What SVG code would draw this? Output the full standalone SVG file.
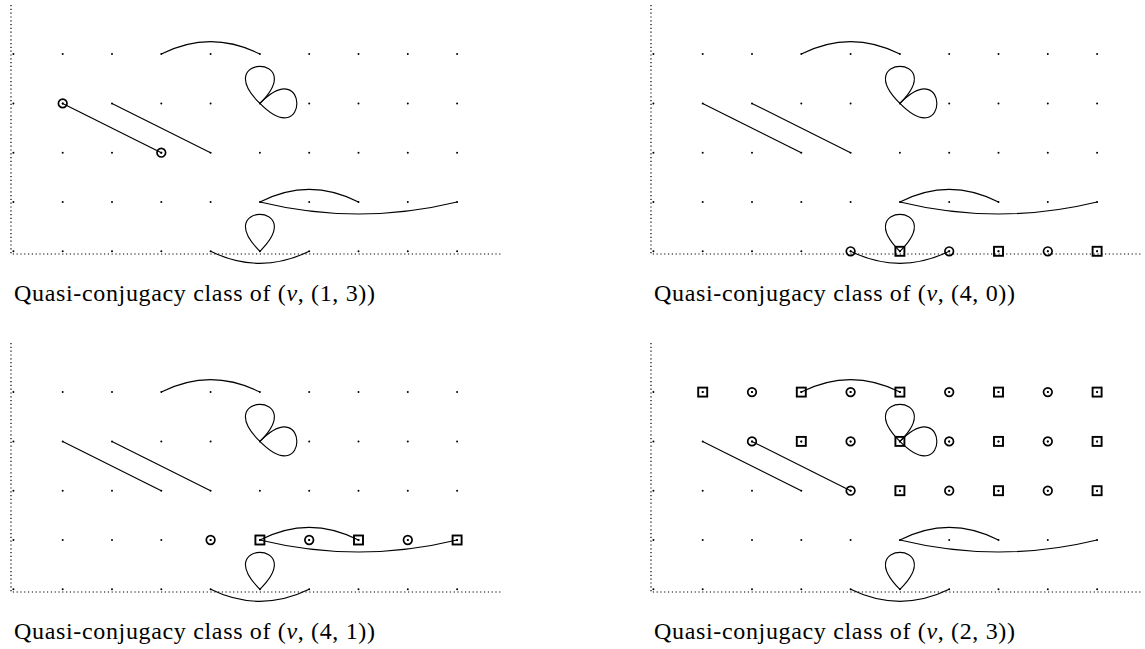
<svg xmlns="http://www.w3.org/2000/svg" xmlns:xlink="http://www.w3.org/1999/xlink" width="1145" height="649" viewBox="0 0 1145 649">
<style>
.edge{fill:none;stroke:#000;stroke-width:1.15}
.axis{fill:none;stroke:#000;stroke-width:1.2;stroke-dasharray:1.2 2.6}
.grid{fill:none;stroke:#000;stroke-width:2;stroke-linecap:round;stroke-dasharray:0 49.3}
.lbl{font-family:'Liberation Serif','Times New Roman',serif;font-size:24px;fill:#000}
</style>
<defs>
<g id="gridbase">
<path class="axis" d="M11 5V254H502"/>
<path class="grid" d="M13.4 54.1H458M13.4 103.4H458M13.4 152.7H458M13.4 202H458M13.4 251.3H458"/>
</g>
<g id="circ"><circle r="4.3" fill="none" stroke="#000" stroke-width="1.7"/><circle r="1" fill="#000"/></g>
<g id="sq"><rect x="-4.5" y="-4.5" width="9" height="9" fill="none" stroke="#000" stroke-width="1.9"/><circle r="1" fill="#000"/></g>
</defs>

<g id="panel1">
<use xlink:href="#gridbase" href="#gridbase"/>
<g id="p1-edges">
<path class="edge" d="M161.3 54.1Q210.6 29.3 259.9 54.1"/>
<path class="edge" d="M259.9 103.4C209.9 54.1 309.9 54.1 259.9 103.4"/>
<path class="edge" d="M259.9 103.4C309.2 53.4 309.2 153.4 259.9 103.4"/>
<path class="edge" d="M62.7 103.4L161.3 152.7"/>
<path class="edge" d="M112 103.4L210.6 152.7"/>
<path class="edge" d="M259.9 202Q309.2 176.6 358.5 202"/>
<path class="edge" d="M259.9 202Q358.5 226 457.1 202"/>
<path class="edge" d="M259.9 251.3C209.9 202 309.9 202 259.9 251.3"/>
<path class="edge" d="M210.6 251.3Q259.9 275.3 309.2 251.3"/>
</g>
<g id="p1-n1"><use xlink:href="#circ" href="#circ" x="62.7" y="103.4"/></g>
<g id="p1-n2"><use xlink:href="#circ" href="#circ" x="161.3" y="152.7"/></g>
<text class="lbl" font-family="Liberation Serif" x="14" y="300.5" textLength="361" lengthAdjust="spacing">Quasi-conjugacy class of (<tspan font-style="italic">v</tspan>, (1, 3))</text>
</g>

<g id="panel2" transform="translate(640,0)">
<use xlink:href="#gridbase" href="#gridbase"/>
<g id="p2-edges">
<path class="edge" d="M161.3 54.1Q210.6 29.3 259.9 54.1"/>
<path class="edge" d="M259.9 103.4C209.9 54.1 309.9 54.1 259.9 103.4"/>
<path class="edge" d="M259.9 103.4C309.2 53.4 309.2 153.4 259.9 103.4"/>
<path class="edge" d="M62.7 103.4L161.3 152.7"/>
<path class="edge" d="M112 103.4L210.6 152.7"/>
<path class="edge" d="M259.9 202Q309.2 176.6 358.5 202"/>
<path class="edge" d="M259.9 202Q358.5 226 457.1 202"/>
<path class="edge" d="M259.9 251.3C209.9 202 309.9 202 259.9 251.3"/>
<path class="edge" d="M210.6 251.3Q259.9 275.3 309.2 251.3"/>
</g>
<g id="p2-n1"><use xlink:href="#circ" href="#circ" x="210.6" y="251.3"/></g>
<g id="p2-n2"><use xlink:href="#sq" href="#sq" x="259.9" y="251.3"/></g>
<g id="p2-n3"><use xlink:href="#circ" href="#circ" x="309.2" y="251.3"/></g>
<g id="p2-n4"><use xlink:href="#sq" href="#sq" x="358.5" y="251.3"/></g>
<g id="p2-n5"><use xlink:href="#circ" href="#circ" x="407.8" y="251.3"/></g>
<g id="p2-n6"><use xlink:href="#sq" href="#sq" x="457.1" y="251.3"/></g>
<text class="lbl" font-family="Liberation Serif" x="14" y="300.5" textLength="361" lengthAdjust="spacing">Quasi-conjugacy class of (<tspan font-style="italic">v</tspan>, (4, 0))</text>
</g>

<g id="panel3" transform="translate(0,338)">
<use xlink:href="#gridbase" href="#gridbase"/>
<g id="p3-edges">
<path class="edge" d="M161.3 54.1Q210.6 29.3 259.9 54.1"/>
<path class="edge" d="M259.9 103.4C209.9 54.1 309.9 54.1 259.9 103.4"/>
<path class="edge" d="M259.9 103.4C309.2 53.4 309.2 153.4 259.9 103.4"/>
<path class="edge" d="M62.7 103.4L161.3 152.7"/>
<path class="edge" d="M112 103.4L210.6 152.7"/>
<path class="edge" d="M259.9 202Q309.2 176.6 358.5 202"/>
<path class="edge" d="M259.9 202Q358.5 226 457.1 202"/>
<path class="edge" d="M259.9 251.3C209.9 202 309.9 202 259.9 251.3"/>
<path class="edge" d="M210.6 251.3Q259.9 275.3 309.2 251.3"/>
</g>
<g id="p3-n1"><use xlink:href="#circ" href="#circ" x="210.6" y="202"/></g>
<g id="p3-n2"><use xlink:href="#sq" href="#sq" x="259.9" y="202"/></g>
<g id="p3-n3"><use xlink:href="#circ" href="#circ" x="309.2" y="202"/></g>
<g id="p3-n4"><use xlink:href="#sq" href="#sq" x="358.5" y="202"/></g>
<g id="p3-n5"><use xlink:href="#circ" href="#circ" x="407.8" y="202"/></g>
<g id="p3-n6"><use xlink:href="#sq" href="#sq" x="457.1" y="202"/></g>
<text class="lbl" font-family="Liberation Serif" x="14" y="300.5" textLength="361" lengthAdjust="spacing">Quasi-conjugacy class of (<tspan font-style="italic">v</tspan>, (4, 1))</text>
</g>

<g id="panel4" transform="translate(640,338)">
<use xlink:href="#gridbase" href="#gridbase"/>
<g id="p4-edges">
<path class="edge" d="M161.3 54.1Q210.6 29.3 259.9 54.1"/>
<path class="edge" d="M259.9 103.4C209.9 54.1 309.9 54.1 259.9 103.4"/>
<path class="edge" d="M259.9 103.4C309.2 53.4 309.2 153.4 259.9 103.4"/>
<path class="edge" d="M62.7 103.4L161.3 152.7"/>
<path class="edge" d="M112 103.4L210.6 152.7"/>
<path class="edge" d="M259.9 202Q309.2 176.6 358.5 202"/>
<path class="edge" d="M259.9 202Q358.5 226 457.1 202"/>
<path class="edge" d="M259.9 251.3C209.9 202 309.9 202 259.9 251.3"/>
<path class="edge" d="M210.6 251.3Q259.9 275.3 309.2 251.3"/>
</g>
<g id="p4-r4">
<g id="p4-a1"><use xlink:href="#sq" href="#sq" x="62.7" y="54.1"/></g>
<g id="p4-a2"><use xlink:href="#circ" href="#circ" x="112" y="54.1"/></g>
<g id="p4-a3"><use xlink:href="#sq" href="#sq" x="161.3" y="54.1"/></g>
<g id="p4-a4"><use xlink:href="#circ" href="#circ" x="210.6" y="54.1"/></g>
<g id="p4-a5"><use xlink:href="#sq" href="#sq" x="259.9" y="54.1"/></g>
<g id="p4-a6"><use xlink:href="#circ" href="#circ" x="309.2" y="54.1"/></g>
<g id="p4-a7"><use xlink:href="#sq" href="#sq" x="358.5" y="54.1"/></g>
<g id="p4-a8"><use xlink:href="#circ" href="#circ" x="407.8" y="54.1"/></g>
<g id="p4-a9"><use xlink:href="#sq" href="#sq" x="457.1" y="54.1"/></g>
</g>
<g id="p4-r3">
<g id="p4-b2"><use xlink:href="#circ" href="#circ" x="112" y="103.4"/></g>
<g id="p4-b3"><use xlink:href="#sq" href="#sq" x="161.3" y="103.4"/></g>
<g id="p4-b4"><use xlink:href="#circ" href="#circ" x="210.6" y="103.4"/></g>
<g id="p4-b5"><use xlink:href="#sq" href="#sq" x="259.9" y="103.4"/></g>
<g id="p4-b6"><use xlink:href="#circ" href="#circ" x="309.2" y="103.4"/></g>
<g id="p4-b7"><use xlink:href="#sq" href="#sq" x="358.5" y="103.4"/></g>
<g id="p4-b8"><use xlink:href="#circ" href="#circ" x="407.8" y="103.4"/></g>
<g id="p4-b9"><use xlink:href="#sq" href="#sq" x="457.1" y="103.4"/></g>
</g>
<g id="p4-r2">
<g id="p4-c4"><use xlink:href="#circ" href="#circ" x="210.6" y="152.7"/></g>
<g id="p4-c5"><use xlink:href="#sq" href="#sq" x="259.9" y="152.7"/></g>
<g id="p4-c6"><use xlink:href="#circ" href="#circ" x="309.2" y="152.7"/></g>
<g id="p4-c7"><use xlink:href="#sq" href="#sq" x="358.5" y="152.7"/></g>
<g id="p4-c8"><use xlink:href="#circ" href="#circ" x="407.8" y="152.7"/></g>
<g id="p4-c9"><use xlink:href="#sq" href="#sq" x="457.1" y="152.7"/></g>
</g>
<text class="lbl" font-family="Liberation Serif" x="14" y="300.5" textLength="361" lengthAdjust="spacing">Quasi-conjugacy class of (<tspan font-style="italic">v</tspan>, (2, 3))</text>
</g>
</svg>
